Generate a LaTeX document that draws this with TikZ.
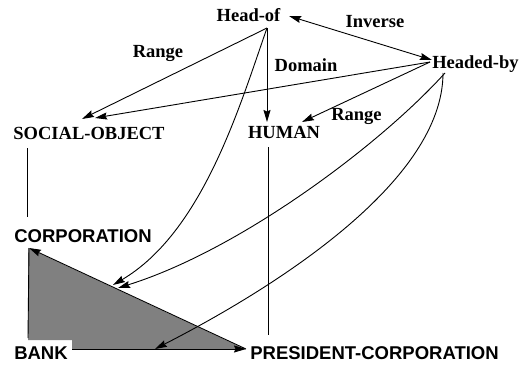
\documentclass[tikz,border=0pt]{standalone}
\usepackage{fontspec}
\setmainfont{Liberation Serif}
\setsansfont{Liberation Sans}
\usetikzlibrary{arrows.meta}
\begin{document}
\begin{tikzpicture}[x=1pt,y=-1pt,
  lbl/.style={font=\fontsize{18.5}{20}\selectfont\bfseries, inner sep=0pt, anchor=base},
  slbl/.style={lbl, font=\fontsize{18.5}{20}\selectfont\sffamily\bfseries},
  tip/.style={Stealth[length=12pt,width=7pt,inset=1.5pt]},
  conn/.style={line width=0.9pt, -{Stealth[length=12pt,width=7pt,inset=1.5pt]}},
  both/.style={line width=0.9pt, {Stealth[length=12pt,width=7pt,inset=1.5pt]}-{Stealth[length=12pt,width=7pt,inset=1.5pt]}},
  plain/.style={line width=0.9pt}]
\useasboundingbox (0,0) rectangle (520,367);
% shaded triangle
\fill[gray] (28,248) -- (28,340) -- (72,340) -- (72,349) -- (245,349) -- cycle;
% labels
\node[lbl] (ho) at (248.5,21) {Head-of};
\node[lbl] (inv) at (375,27) {Inverse};
\node[lbl] (r1) at (158,57) {Range};
\node[lbl] (dom) at (306,71) {Domain};
\node[lbl] (hb) at (475.5,68) {Headed-by};
\node[lbl] (r2) at (356.5,120.5) {Range};
\node[lbl] (so) at (89,139) {SOCIAL-OBJECT};
\node[lbl] (hu) at (284,138) {HUMAN};
\node[slbl] (co) at (83,242) {CORPORATION};
\node[slbl] (bk) at (41,359) {BANK};
\node[slbl] (pc) at (374.5,359) {PRESIDENT-CORPORATION};
% ports
\coordinate (hoP) at (267,28);
\coordinate (hoL) at (289,16);
\coordinate (hbL) at (432,60);
\coordinate (hbW) at (430,62);
\coordinate (hbS1) at (445,73);
\coordinate (hbS2) at (443,73);
\coordinate (soA) at (82,119);
\coordinate (soB) at (95,118);
\coordinate (huA) at (267,122);
\coordinate (huB) at (302,122);
\coordinate (soD) at (27,148);
\coordinate (coU) at (27,217);
\coordinate (coC) at (29,248);
\coordinate (bkU) at (28,338);
\coordinate (bkE) at (72,349);
\coordinate (pcW) at (246,349);
\coordinate (huD) at (268,147);
\coordinate (huE) at (268,335);
\coordinate (hypA) at (113,285);
\coordinate (hypB) at (118,288);
\coordinate (botA) at (155,349);
% straight connectors
\draw[both] (hoL) -- (hbL);
\draw[conn] (hoP) -- (soA);
\draw[conn] (hoP) -- (huA);
\draw[conn] (hbW) -- (soB);
\draw[conn] (hbW) -- (huB);
\draw[plain] (soD) -- (coU);
\draw[plain] (huD) -- (huE);
\draw[plain] (coC) -- (bkU);
\draw[conn] (pcW) -- (coC);
\draw[conn] (bkE) -- (pcW);
% curved connectors
\draw[conn] (hoP) .. controls (240,105) and (203,232) .. (hypA);
\draw[conn] (hbS1) .. controls (380,145) and (240,250) .. (hypB);
\draw[conn] (hbS2) .. controls (443,180) and (280,285) .. (botA);
\end{tikzpicture}
\end{document}
